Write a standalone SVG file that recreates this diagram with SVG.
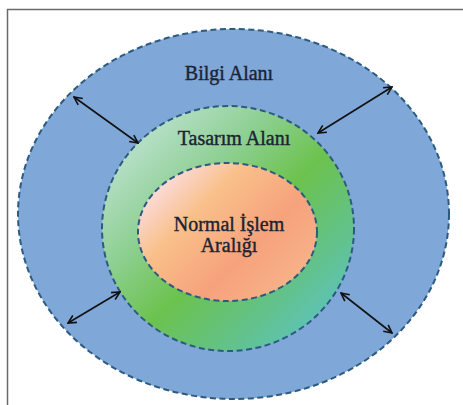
<svg xmlns="http://www.w3.org/2000/svg" width="463" height="405" viewBox="0 0 463 405">
  <defs>
    <style>
      .zone { stroke: #2c5b80; stroke-width: 2; stroke-dasharray: 6 3.5; }
      .label { font-family: 'Liberation Serif', 'Times New Roman', Times, serif; font-size: 20px; fill: #1c2433; stroke: #1c2433; stroke-width: 0.4; text-anchor: middle; }
      .link { stroke: #111; stroke-width: 1.6; fill: none; marker-start: url(#tip); marker-end: url(#tip); }
    </style>
    <linearGradient id="designFill" x1="0.1" y1="0.1" x2="0.9" y2="0.9">
      <stop offset="0" stop-color="#bfe2d2"/>
      <stop offset="0.3" stop-color="#8ed093"/>
      <stop offset="0.55" stop-color="#6cc24e"/>
      <stop offset="0.8" stop-color="#62c28a"/>
      <stop offset="1" stop-color="#5cc3c0"/>
    </linearGradient>
    <linearGradient id="normalFill" x1="0.05" y1="0.15" x2="0.95" y2="0.85">
      <stop offset="0" stop-color="#fbe0ea"/>
      <stop offset="0.3" stop-color="#f9c08a"/>
      <stop offset="0.65" stop-color="#f6a27c"/>
      <stop offset="1" stop-color="#f7b48a"/>
    </linearGradient>
    <marker id="tip" viewBox="0 0 10 10" refX="9" refY="5" markerWidth="10" markerHeight="10" markerUnits="userSpaceOnUse" orient="auto-start-reverse">
      <path d="M1,1 L9,5 L1,9" fill="none" stroke="#111" stroke-width="1.6"/>
    </marker>
  </defs>

  <rect x="0" y="0" width="463" height="405" fill="#ffffff"/>
  <!-- frame -->
  <path d="M7.5,405 V9.5 H463" fill="none" stroke="#6a6a6a" stroke-width="1.5"/>

  <g id="bilgi-alani">
    <ellipse class="zone" cx="233.5" cy="214" rx="215.5" ry="185" fill="#7fa7d8"/>
    <text class="label" x="229" y="80" font-family="Liberation Serif, serif">Bilgi Alanı</text>
  </g>

  <g id="tasarim-alani">
    <ellipse class="zone" cx="228" cy="228.5" rx="126" ry="122.5" fill="url(#designFill)"/>
    <text class="label" x="234" y="145" font-family="Liberation Serif, serif">Tasarım Alanı</text>
  </g>

  <g id="normal-islem-araligi">
    <ellipse class="zone" cx="227.5" cy="232" rx="89.5" ry="69" fill="url(#normalFill)"/>
    <text class="label" x="229" y="231" font-family="Liberation Serif, serif">Normal İşlem</text>
    <text class="label" x="229" y="252" font-family="Liberation Serif, serif">Aralığı</text>
  </g>

  <g id="connectors">
    <line class="link" x1="74" y1="97" x2="138" y2="143"/>
    <line class="link" x1="392" y1="87" x2="318" y2="133"/>
    <line class="link" x1="68" y1="323" x2="120" y2="292"/>
    <line class="link" x1="341" y1="293" x2="392" y2="333"/>
  </g>
</svg>
